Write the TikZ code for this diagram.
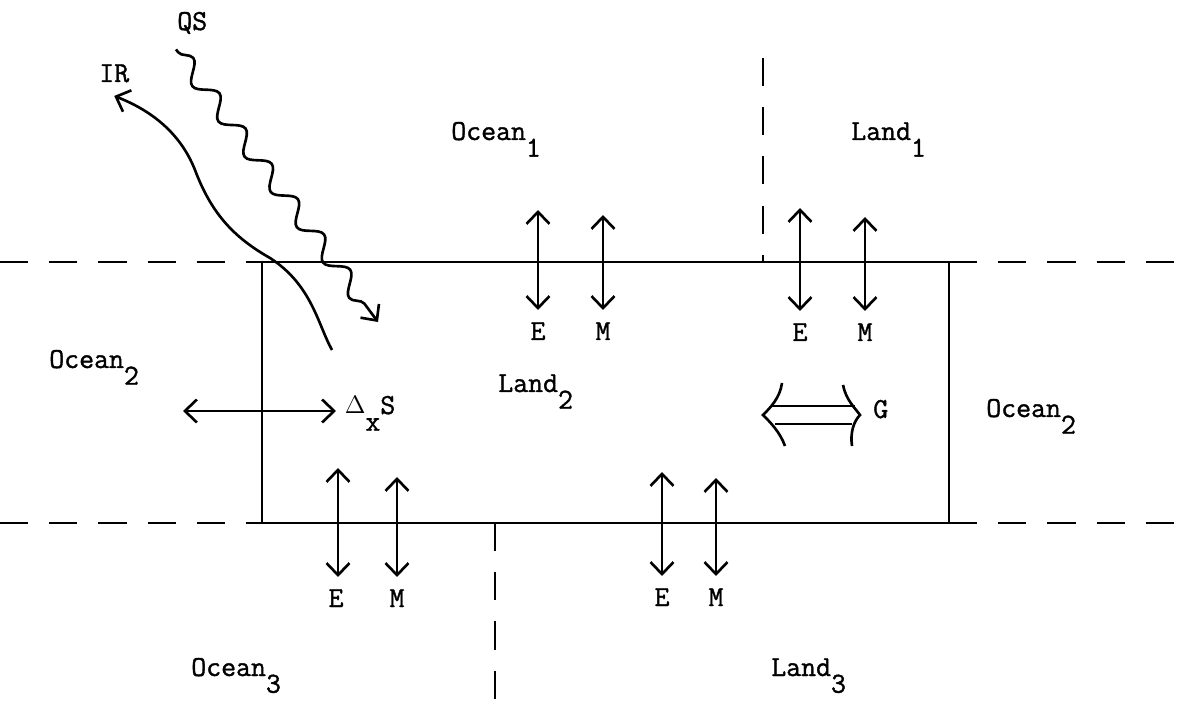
\documentclass[tikz,border=0pt]{standalone}
\usepackage{fontspec}
\newfontfamily\tyfont[FakeBold=1.3]{Latin Modern Mono}
\usetikzlibrary{arrows.meta, decorations.pathmorphing}
\newcommand{\dn}[1]{\raisebox{-9.5pt}{#1}}

\begin{document}
\begin{tikzpicture}[x=0.02cm, y=-0.02cm, line width=1.5pt,
    >={Straight Barb[length=2.4mm,width=4.6mm]},
    lbl/.style={font=\tyfont\fontsize{16.5}{19}\selectfont, inner sep=0pt, anchor=base west},
    flux/.style={font=\tyfont\fontsize{16.5}{19}\selectfont, inner sep=0pt, outer sep=7pt, anchor=base},
    bound/.style={line width=1.4pt, dash pattern=on 16pt off 12pt}]
  \useasboundingbox (0,0) rectangle (1177,719);

  % Land box
  \draw[line width=1.2pt] (262,262) rectangle (949,523);

  % Dashed boundaries
  \draw[bound] (0,262) -- (262,262);
  \draw[bound] (949,262) -- (1177,262);
  \draw[bound] (0,523) -- (262,523);
  \draw[bound] (949,523) -- (1177,523);
  \draw[bound] (763,58) -- (763,262);
  \draw[bound] (495,523) -- (495,719);

  % Regions
  \node[lbl] (ocean1) at (450,140) {Ocean\dn{1}};
  \node[lbl] (land1) at (850,140) {Land\dn{1}};
  \node[lbl] (ocean2w) at (48,368) {Ocean\dn{2}};
  \node[lbl] (land2) at (497,392) {Land\dn{2}};
  \node[lbl] (ocean2e) at (985,417) {Ocean\dn{2}};
  \node[lbl] (ocean3) at (190,676) {Ocean\dn{3}};
  \node[lbl] (land3) at (770,676) {Land\dn{3}};

  % --- E and M exchanges, top edge ---
  \node[flux] (eNW) at (538,340) {E};
  \node[flux] (mNW) at (603,340) {M};
  \node[flux] (eNE) at (800,341) {E};
  \node[flux] (mNE) at (865,341) {M};
  \coordinate (eNWtop) at (538,210);
  \coordinate (mNWtop) at (603,215);
  \coordinate (eNEtop) at (800,208);
  \coordinate (mNEtop) at (865,217);
  \draw[<->] (eNWtop) -- (eNW.north);
  \draw[<->] (mNWtop) -- (mNW.north);
  \draw[<->] (eNEtop) -- (eNE.north);
  \draw[<->] (mNEtop) -- (mNE.north);

  % --- E and M exchanges, bottom edge ---
  \node[flux] (eSW) at (336,607) {E};
  \node[flux] (mSW) at (397,607) {M};
  \node[flux] (eSE) at (662,606) {E};
  \node[flux] (mSE) at (716,606) {M};
  \coordinate (eSWtop) at (338,468);
  \coordinate (mSWtop) at (397,477);
  \coordinate (eSEtop) at (662,472);
  \coordinate (mSEtop) at (716,478);
  \draw[<->] (eSWtop) -- (eSWtop |- eSW.north);
  \draw[<->] (mSWtop) -- (mSW.north);
  \draw[<->] (eSEtop) -- (eSE.north);
  \draw[<->] (mSEtop) -- (mSE.north);

  % Storage change
  \node[lbl, outer sep=5pt] (dxs) at (336,414) {{\fontsize{14}{14}\selectfont$\Delta$}\dn{x}S};
  \coordinate (dxsend) at (183,411);
  \draw[<->] (dxsend) -- (dxsend -| dxs.west);

  % G transport
  \node[lbl] (g) at (872,418) {G};
  \coordinate (gW) at (763,415);
  \coordinate (gE) at (860,415);
  \draw[line width=1.2pt] (772,406) -- (855,406);
  \draw[line width=1.2pt] (775,424) -- (852,424);
  \draw (782,383) .. controls (780,398) and (770,408) .. (gW) .. controls (770,422) and (780,432) .. (785,446);
  \draw (843,385) .. controls (846,400) and (855,408) .. (gE) .. controls (854,421) and (850,432) .. (852,446);

  % Radiation
  \node[lbl] (qs) at (176,30) {QS};
  \node[lbl] (ir) at (98,82) {IR};
  \coordinate (qsend) at (378,322);
  \coordinate (irtail) at (332,350);
  \draw[->, decorate, decoration={snake, amplitude=5pt, segment length=25pt, pre length=2pt, post length=8pt}]
    ([yshift=-8pt]qs.south west) -- (qsend);
  \draw[->] (irtail) .. controls (318,325) and (312,285) .. (270,258)
    .. controls (235,238) and (212,215) .. (195,170)
    .. controls (180,132) and (150,110) .. ([yshift=-7pt]ir.south);
\end{tikzpicture}
\end{document}
